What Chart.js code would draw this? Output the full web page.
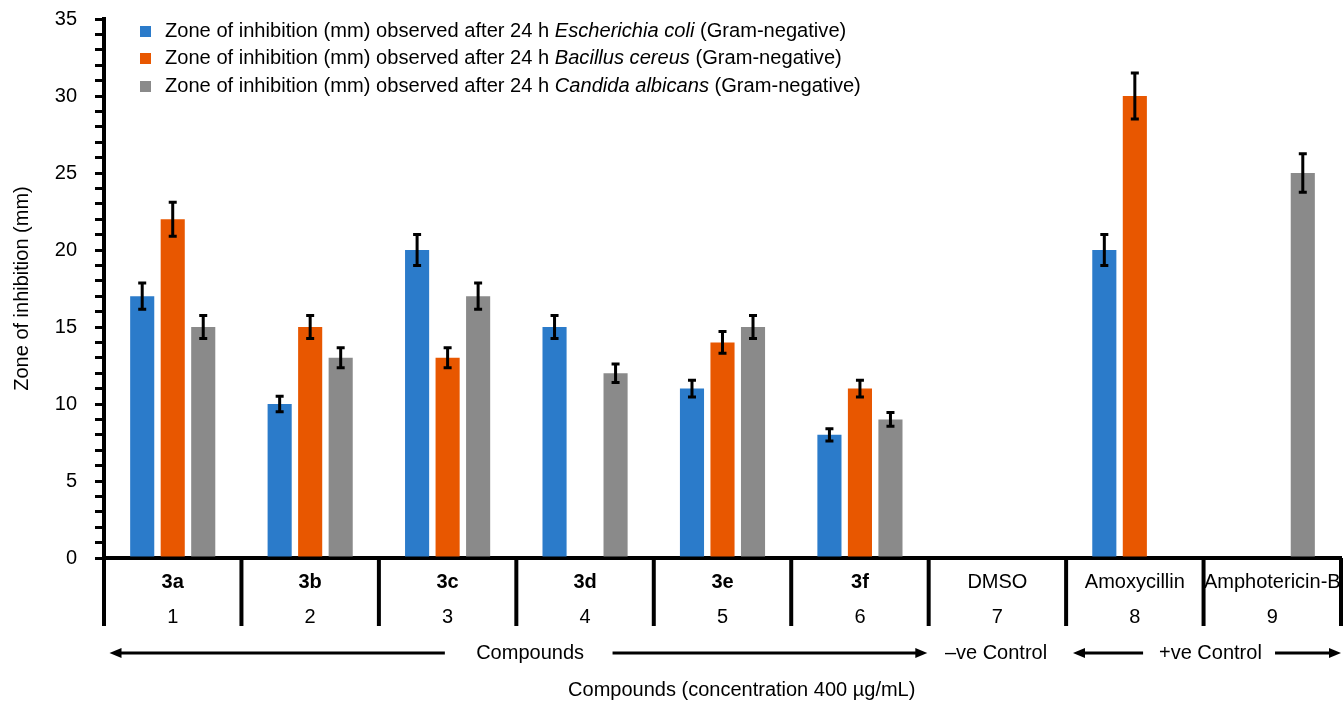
<!DOCTYPE html>
<html>
<head>
<meta charset="utf-8">
<title>Zone of inhibition</title>
<script src="https://cdn.jsdelivr.net/npm/chart.js@4.4.1/dist/chart.umd.min.js"></script>
<style>
  html, body { margin: 0; padding: 0; background: #fff; }
  #wrap { width: 1343px; height: 704px; position: relative; }
</style>
</head>
<body>
<div id="wrap"><canvas id="zone-chart"></canvas></div>
<script>
// Categories (two label rows under the axis)
const categoryNames = ['3a', '3b', '3c', '3d', '3e', '3f', 'DMSO', 'Amoxycillin', 'Amphotericin-B'];
const categoryNumbers = ['1', '2', '3', '4', '5', '6', '7', '8', '9'];
const boldCategories = [true, true, true, true, true, true, false, false, false];

// Series values (mm) and their error bars
const ecoliValues = [17, 10, 20, 15, 11, 8, null, 20, null];
const cereusValues = [22, 15, 13, null, 14, 11, null, 30, null];
const albicansValues = [15, 13, 17, 12, 15, 9, null, null, 25];
const ecoliErrors = [0.85, 0.5, 1.0, 0.75, 0.55, 0.4, null, 1.0, null];
const cereusErrors = [1.1, 0.75, 0.65, null, 0.7, 0.55, null, 1.5, null];
const albicansErrors = [0.75, 0.65, 0.85, 0.6, 0.75, 0.45, null, null, 1.25];

// Legend text: plain prefix, italic species, plain suffix
const legendPrefix = 'Zone of inhibition (mm) observed after 24 h ';
const speciesNames = ['Escherichia coli', 'Bacillus cereus', 'Candida albicans'];
const legendSuffix = ' (Gram-negative)';

// Y axis ticks
const yMin = 0;
const yMax = 35;
const yMajorStep = 5;

const yTitle = 'Zone of inhibition (mm)';
const xTitle = 'Compounds (concentration 400 \u00b5g/mL)';
const groupLabels = ['Compounds', '\u2013ve Control', '+ve Control'];

const colors = ['#2b7bca', '#e85700', '#8a8a8a'];
const FONT = '"Liberation Sans", Arial, Helvetica, sans-serif';

// error bars drawn on top of each bar
const errorBarPlugin = {
  id: 'errorBars',
  afterDatasetsDraw(chart) {
    const ctx = chart.ctx;
    const y = chart.scales.y;
    ctx.save();
    ctx.strokeStyle = '#000';
    ctx.lineWidth = 3;
    ctx.lineCap = 'butt';
    chart.data.datasets.forEach((ds, i) => {
      const meta = chart.getDatasetMeta(i);
      meta.data.forEach((bar, j) => {
        const v = ds.data[j];
        const e = ds.errors[j];
        if (v == null || e == null) return;
        const top = y.getPixelForValue(v + e);
        const bot = y.getPixelForValue(v - e);
        ctx.beginPath();
        ctx.moveTo(bar.x, top); ctx.lineTo(bar.x, bot);
        ctx.moveTo(bar.x - 4, top); ctx.lineTo(bar.x + 4, top);
        ctx.moveTo(bar.x - 4, bot); ctx.lineTo(bar.x + 4, bot);
        ctx.stroke();
      });
    });
    ctx.restore();
  }
};

function arrow(ctx, x1, x2, yy) {
  // line from x1 to x2 with head at x2
  const dir = x2 > x1 ? 1 : -1;
  ctx.beginPath();
  ctx.moveTo(x1, yy);
  ctx.lineTo(x2 - dir * 10, yy);
  ctx.stroke();
  ctx.beginPath();
  ctx.moveTo(x2, yy);
  ctx.lineTo(x2 - dir * 12, yy - 5);
  ctx.lineTo(x2 - dir * 12, yy + 5);
  ctx.closePath();
  ctx.fill();
}

// category separators, labels, arrows, titles, legend
const decorPlugin = {
  id: 'decor',
  afterDraw(chart) {
    const ctx = chart.ctx;
    const area = chart.chartArea;
    const n = categoryNames.length;
    const cw = (area.right - area.left) / n;
    const px = u => area.left + u * cw;
    ctx.save();

    // separators
    ctx.strokeStyle = '#000';
    ctx.lineWidth = 4;
    for (let i = 0; i <= n; i++) {
      const xx = Math.min(px(i), chart.width - 2);
      ctx.beginPath();
      ctx.moveTo(xx, area.bottom);
      ctx.lineTo(xx, area.bottom + 68);
      ctx.stroke();
    }

    // category labels
    ctx.fillStyle = '#000';
    ctx.textAlign = 'center';
    ctx.textBaseline = 'middle';
    for (let i = 0; i < n; i++) {
      const cx = px(i + 0.5);
      ctx.font = (boldCategories[i] ? 'bold ' : '') + '20px ' + FONT;
      ctx.fillText(categoryNames[i], cx, area.bottom + 24);
      ctx.font = '20px ' + FONT;
      ctx.fillText(categoryNumbers[i], cx, area.bottom + 59);
    }

    // group arrows
    const ay = area.bottom + 95;
    ctx.lineWidth = 3;
    ctx.fillStyle = '#000';
    arrow(ctx, px(2.48), px(0.04), ay);
    arrow(ctx, px(3.70), px(5.99), ay);
    arrow(ctx, px(7.56), px(7.05), ay);
    arrow(ctx, px(8.52), px(9.0), ay);
    ctx.font = '20px ' + FONT;
    ctx.fillText(groupLabels[0], px(3.10), ay);
    ctx.fillText(groupLabels[1], px(6.49), ay);
    ctx.fillText(groupLabels[2], px(8.05), ay);

    // axis titles
    ctx.font = '20px ' + FONT;
    ctx.fillText(xTitle, px(4.64), area.bottom + 132);
    ctx.save();
    ctx.translate(22, (area.top + area.bottom) / 2);
    ctx.rotate(-Math.PI / 2);
    ctx.fillText(yTitle, 0, 0);
    ctx.restore();

    // legend
    ctx.textAlign = 'left';
    const rows = [31, 58, 86];
    speciesNames.forEach((sp, i) => {
      const yy = rows[i];
      ctx.fillStyle = colors[i];
      ctx.fillRect(140, yy - 5, 11, 11);
      ctx.fillStyle = '#000';
      let x = 165;
      ctx.font = '20.1px ' + FONT;
      ctx.fillText(legendPrefix, x, yy);
      x += ctx.measureText(legendPrefix).width;
      ctx.font = 'italic 20.1px ' + FONT;
      ctx.fillText(sp, x, yy);
      x += ctx.measureText(sp).width;
      ctx.font = '20.1px ' + FONT;
      ctx.fillText(legendSuffix, x, yy);
    });
    ctx.restore();
  }
};

const datasets = [ecoliValues, cereusValues, albicansValues].map((vals, i) => ({
  label: legendPrefix + speciesNames[i] + legendSuffix,
  data: vals,
  errors: [ecoliErrors, cereusErrors, albicansErrors][i],
  backgroundColor: colors[i],
  borderWidth: 0,
  categoryPercentage: 0.666,
  barPercentage: 0.79,
}));

new Chart(document.getElementById('zone-chart'), {
  type: 'bar',
  data: { labels: categoryNames, datasets },
  options: {
    responsive: true,
    maintainAspectRatio: false,
    animation: false,
    layout: { padding: { left: 0, top: 19, right: 2, bottom: 146 } },
    plugins: { legend: { display: false }, tooltip: { enabled: false } },
    scales: {
      x: {
        z: 1,
        ticks: { display: false },
        grid: { display: false, drawTicks: false },
        border: { display: true, color: '#000', width: 4 },
        afterFit(s) { s.height = 0; }
      },
      y: {
        z: 1,
        min: yMin,
        max: yMax,
        ticks: {
          stepSize: 1,
          autoSkip: false,
          padding: 18,
          color: '#000',
          font: { family: FONT, size: 20 },
          callback: v => (v % yMajorStep === 0 ? v : '')
        },
        grid: { drawOnChartArea: false, tickLength: 9, color: '#000', lineWidth: 3 },
        border: { display: true, color: '#000', width: 4 },
        afterFit(s) { s.width = 104; s.paddingTop = 0; s.paddingBottom = 0; }
      }
    }
  },
  plugins: [errorBarPlugin, decorPlugin]
});
</script>
</body>
</html>
